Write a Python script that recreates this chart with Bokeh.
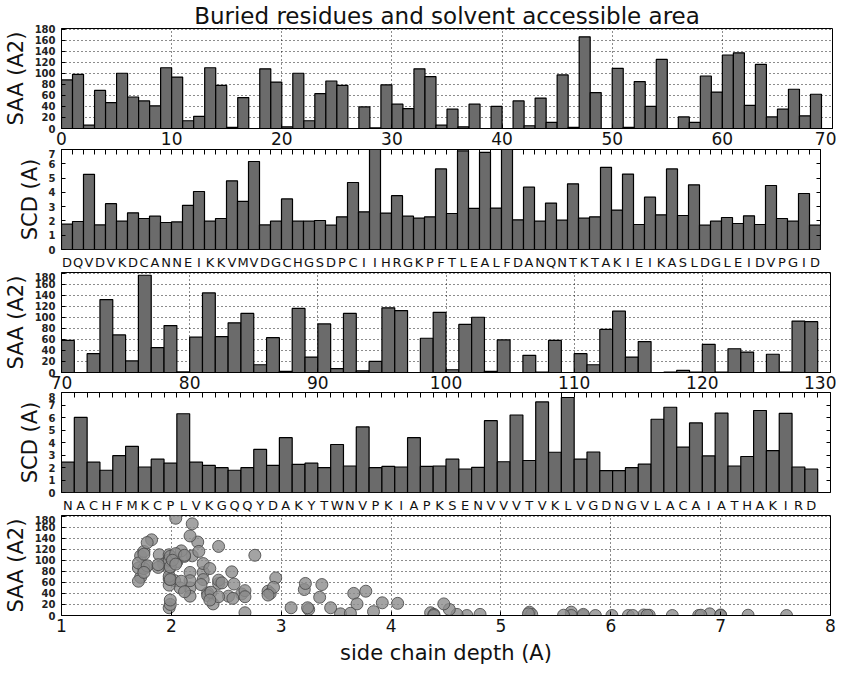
import numpy as np
from bokeh.plotting import figure
from bokeh.models import Range1d, LinearAxis, FixedTicker
from bokeh.layouts import column
from bokeh.embed import file_html
from bokeh.resources import INLINE

# ---------------- data ----------------
TITLE = "Buried residues and solvent accessible area"
SEQ1 = "DQVDVKDCANNEIKKVMVDGCHGSDPCIIHRGKPFTLEALFDANQNTKTAKIEIKASLDGLEIDVPGID"
SEQ2 = "NACHFMKCPLVKGQQYDAKYTWNVPKIAPKSENVVVTVKLVGDNGVLACAIATHAKIRD"
START1 = 0
START2 = 70

SAA1 = [88, 98, 6, 69, 47, 100, 57, 50, 41, 110,
        93, 14, 22, 110, 78, 2, 56, 0, 108, 84,
        3, 100, 14, 63, 86, 78, 0, 39, 1, 79,
        44, 36, 108, 94, 6, 35, 3, 44, 0, 40,
        0, 50, 5, 55, 11, 97, 2, 166, 65, 0,
        109, 2, 85, 40, 125, 0, 21, 11, 95, 66,
        133, 137, 42, 116, 21, 35, 71, 23, 62]
SCD1 = [1.77, 1.96, 5.26, 1.72, 3.21, 1.98, 2.57, 2.17, 2.33, 1.89,
        1.93, 3.09, 4.06, 1.98, 2.17, 4.81, 3.37, 6.16, 1.72, 1.98,
        3.54, 1.98, 1.98, 2.03, 1.70, 2.29, 4.69, 2.64, 7.0, 2.55,
        3.77, 2.33, 2.19, 2.29, 5.64, 2.52, 6.9, 2.88, 6.8, 2.90,
        7.0, 2.08, 4.36, 1.98, 3.25, 2.05, 4.60, 2.19, 2.29, 5.75,
        2.76, 5.28, 1.75, 3.66, 2.43, 5.64, 2.38, 4.53, 1.70, 1.98,
        2.24, 1.82, 2.36, 1.75, 4.48, 2.17, 1.98, 3.92, 1.70]
SAA2 = [58, 0, 34, 132, 68, 21, 176, 45, 85, 1,
        64, 144, 65, 90, 107, 14, 63, 2, 116, 28,
        88, 7, 107, 3, 20, 117, 112, 0, 62, 109,
        5, 87, 100, 2, 59, 0, 31, 0.5, 58, 0,
        34, 14, 78, 111, 28, 56, 0, 0.5, 4, 0.5,
        51, 0.5, 43, 37, 0, 33, 0.5, 93, 92]
SCD2 = [2.43, 6.01, 2.43, 1.78, 2.95, 3.69, 2.04, 2.67, 2.35, 6.30,
        2.43, 2.17, 1.99, 1.78, 1.99, 3.45, 2.17, 4.39, 2.25, 2.35,
        1.99, 3.84, 2.12, 5.25, 1.99, 2.09, 2.04, 4.39, 2.09, 2.12,
        2.67, 1.88, 2.01, 5.75, 2.46, 6.20, 2.56, 7.25, 3.22, 7.6,
        2.67, 3.24, 1.75, 1.75, 1.99, 2.27, 5.86, 6.82, 3.63, 5.57,
        2.93, 6.35, 2.12, 2.88, 6.56, 3.35, 6.33, 2.04, 1.88]

SAA_TICKS = [0, 20, 40, 60, 80, 100, 120, 140, 160, 180]
SCD1_TICKS = [0, 1, 2, 3, 4, 5, 6, 7]
SCD2_TICKS = [0, 1, 2, 3, 4, 5, 6, 7, 8]
X1_TICKS = [0, 10, 20, 30, 40, 50, 60, 70]
X2_TICKS = [70, 80, 90, 100, 110, 120, 130]
DEPTH_TICKS = [1, 2, 3, 4, 5, 6, 7, 8]

# ---------------- style ----------------
FONT = "DejaVu Sans"
BAR_FILL = "#6b6b6b"


def base_fig(fw, xr, yr, top, bottom, right):
    p = figure(frame_width=fw, frame_height=100,
               x_range=Range1d(*xr), y_range=Range1d(*yr),
               output_backend="svg", toolbar_location=None,
               min_border_left=58, min_border_right=right,
               min_border_top=top, min_border_bottom=bottom)
    p.outline_line_color = "black"
    p.outline_line_width = 1
    p.outline_line_alpha = 1
    p.background_fill_color = "white"
    p.border_fill_color = "white"
    return p


def style_y(p, ticks, label):
    ax = p.yaxis[0]
    ax.ticker = FixedTicker(ticks=ticks)
    ax.major_tick_in = 4
    ax.major_tick_out = 0
    ax.minor_tick_in = 0
    ax.minor_tick_out = 0
    ax.major_label_text_font = FONT
    ax.major_label_text_font_size = "10px"
    ax.major_label_text_font_style = "bold"
    ax.major_label_text_color = "#222222"
    ax.major_label_standoff = 6
    ax.axis_label = label
    ax.axis_label_text_font = FONT
    ax.axis_label_text_font_size = "21px"
    ax.axis_label_text_font_style = "normal"
    ax.axis_label_text_color = "#111111"
    ax.axis_label_standoff = 4
    ax.axis_line_color = "black"


def style_x_numbers(p, ticks):
    ax = p.xaxis[0]
    ax.ticker = FixedTicker(ticks=ticks)
    ax.major_tick_in = 4
    ax.major_tick_out = 0
    ax.minor_tick_in = 0
    ax.minor_tick_out = 0
    ax.major_label_text_font = FONT
    ax.major_label_text_font_size = "17px"
    ax.major_label_text_color = "#111111"
    ax.major_label_standoff = 3
    ax.axis_line_color = "black"


def dotted_grid(p, xticks, yticks):
    p.xgrid.ticker = FixedTicker(ticks=xticks)
    p.ygrid.ticker = FixedTicker(ticks=yticks)
    for g in (p.xgrid, p.ygrid):
        g.grid_line_color = "black"
        g.grid_line_dash = "1 3"
        g.grid_line_width = 1
        g.grid_line_alpha = 0.9


def no_grid(p):
    p.xgrid.visible = False
    p.ygrid.visible = False


def letters_axis(p, start, seq):
    pos = [start + i + 0.5 for i in range(len(seq))]
    ax = p.xaxis[0]
    ax.ticker = FixedTicker(ticks=pos)
    ax.major_label_overrides = {x: c for x, c in zip(pos, seq)}
    ax.major_tick_in = 0
    ax.major_tick_out = 0
    ax.minor_tick_in = 0
    ax.minor_tick_out = 0
    ax.axis_line_color = None
    ax.major_label_text_font = FONT
    ax.major_label_text_font_size = "13px"
    ax.major_label_text_color = "#111111"
    ax.major_label_standoff = 5


def inner_ticks(p, xticks, yticks):
    # tick marks only (labels not painted)
    top = LinearAxis(ticker=FixedTicker(ticks=xticks), major_tick_in=5, major_tick_out=0,
                     minor_tick_in=0, minor_tick_out=0, major_label_text_font_size="1px",
                     major_label_text_color=None, major_label_text_alpha=0,
                     major_label_standoff=0, axis_line_color=None)
    p.add_layout(top, "above")
    right = LinearAxis(ticker=FixedTicker(ticks=yticks), major_tick_in=4, major_tick_out=0,
                       minor_tick_in=0, minor_tick_out=0, major_label_text_font_size="1px",
                       major_label_text_color=None, major_label_text_alpha=0,
                       major_label_standoff=0, axis_line_color=None)
    p.add_layout(right, "right")


def bars(p, start, vals):
    x = [start + i + 0.5 for i in range(len(vals))]
    p.vbar(x=x, width=1, top=vals, bottom=0, fill_color=BAR_FILL,
           line_color="black", line_width=1.2)


# ---------------- panel 1: SAA 0-70 ----------------
p1 = base_fig(771, (0, 70), (0, 181), 25, 21, 4)
p1.title.text = TITLE
p1.title.text_font = FONT
p1.title.text_font_size = "23px"
p1.title.text_font_style = "normal"
p1.title.text_color = "#111111"
p1.title.align = "center"
p1.title.standoff = 0
style_y(p1, SAA_TICKS, "SAA (A2)")
style_x_numbers(p1, X1_TICKS)
dotted_grid(p1, X1_TICKS, SAA_TICKS)
bars(p1, START1, SAA1)

# ---------------- panel 2: SCD 0-69 ----------------
p2 = base_fig(759, (0, 69), (0, 7), 0, 20, 16)
style_y(p2, SCD1_TICKS, "SCD (A)")
letters_axis(p2, START1, SEQ1)
no_grid(p2)
inner_ticks(p2, list(range(0, 70)), SCD1_TICKS)
bars(p2, START1, SCD1)

# ---------------- panel 3: SAA 70-130 ----------------
p3 = base_fig(769, (70, 130), (0, 181), 0, 20, 6)
style_y(p3, SAA_TICKS, "SAA (A2)")
style_x_numbers(p3, X2_TICKS)
dotted_grid(p3, X2_TICKS, SAA_TICKS)
bars(p3, START2, SAA2)

# ---------------- panel 4: SCD 70-130 ----------------
p4 = base_fig(769, (70, 130), (0, 8), 0, 20, 6)
style_y(p4, SCD2_TICKS, "SCD (A)")
letters_axis(p4, START2, SEQ2)
no_grid(p4)
inner_ticks(p4, list(range(70, 131)), SCD2_TICKS)
bars(p4, START2, SCD2)

# ---------------- panel 5: scatter ----------------
p5 = base_fig(769, (1, 8), (0, 181), 0, 49, 6)
style_y(p5, SAA_TICKS, "SAA (A2)")
style_x_numbers(p5, DEPTH_TICKS)
p5.xaxis[0].axis_label = "side chain depth (A)"
p5.xaxis[0].axis_label_text_font = FONT
p5.xaxis[0].axis_label_text_font_size = "21px"
p5.xaxis[0].axis_label_text_font_style = "normal"
p5.xaxis[0].axis_label_text_color = "#111111"
p5.xaxis[0].axis_label_standoff = 6
dotted_grid(p5, DEPTH_TICKS, SAA_TICKS)
depth = np.concatenate([SCD1, SCD2])
area = np.concatenate([SAA1, SAA2])
p5.scatter(x=depth, y=area, marker="circle", size=12,
           fill_color="#8c8c8c", fill_alpha=0.8,
           line_color="#4a4a4a", line_alpha=0.85, line_width=1)

layout = column(p1, p2, p3, p4, p5, spacing=0)
open("out.html", "w").write(file_html(layout, INLINE))
